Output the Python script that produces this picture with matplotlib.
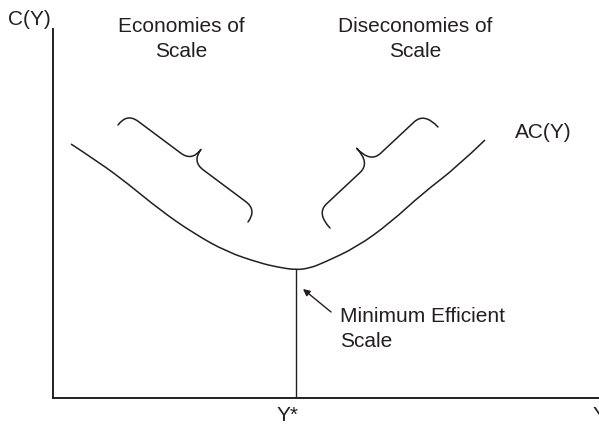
"""
Average cost curve AC(Y): economies / diseconomies of scale and minimum efficient scale.
Axis units are arbitrary (one unit ~ one pixel of the original diagram).
"""

import numpy as np
import matplotlib

matplotlib.use("Agg")
import matplotlib.pyplot as plt
from matplotlib.path import Path
from matplotlib.patches import PathPatch

# Average cost curve
output = [18, 47, 74, 107, 140, 174, 207, 224, 243, 257, 270, 304, 337, 370, 404, 432]
avg_cost = [254, 235, 215, 188, 165, 146, 135, 131, 128, 130, 135, 151, 175, 205, 231, 258]

# Braces: (end A, end B, height)
brace_left = ((65, 273), (195, 176), 15)
brace_right = ((277, 170), (385, 271), 20)

label_econ = ["Economies of", "Scale"]
label_disecon = ["Diseconomies of", "Scale"]
label_mes = ["Minimum Efficient", "Scale"]

INK = "#231f20"
FONT = "Liberation Sans"


def smooth_path(xs, ys):
    # quadratic segments: read points act as control points, joints at midpoints
    pts = np.column_stack([xs, ys]).astype(float)
    verts = [pts[0]]
    codes = [Path.MOVETO]
    for k in range(1, len(pts) - 1):
        end = pts[k + 1] if k == len(pts) - 2 else (pts[k] + pts[k + 1]) / 2
        verts += [pts[k], end]
        codes += [Path.CURVE3, Path.CURVE3]
    return Path(verts, codes)


def brace_path(p0, p1, h, r=14):
    p0 = np.asarray(p0, float)
    p1 = np.asarray(p1, float)
    d = p1 - p0
    L = np.hypot(*d)
    u = d / L
    n = np.array([-u[1], u[0]])
    m = L / 2
    local = [
        (0, 0), (0, h), (r, h),
        (m - r, h),
        (m, h), (m, 2 * h),
        (m, h), (m + r, h),
        (L - r, h),
        (L, h), (L, 0),
    ]
    codes = [Path.MOVETO, Path.CURVE3, Path.CURVE3, Path.LINETO,
             Path.CURVE3, Path.CURVE3, Path.CURVE3, Path.CURVE3,
             Path.LINETO, Path.CURVE3, Path.CURVE3]
    verts = [p0 + a * u + b * n for a, b in local]
    return Path(verts, codes)


fig = plt.figure(figsize=(5.99, 4.24), dpi=100)
ax = fig.add_axes([53 / 599, 26 / 424, 546 / 599, 369 / 424])
ax.set_xlim(0, 546)
ax.set_ylim(0, 369)
for side in ("top", "right"):
    ax.spines[side].set_visible(False)
for side in ("left", "bottom"):
    ax.spines[side].set_linewidth(1.4)
    ax.spines[side].set_color(INK)
ax.set_xticks([])
ax.set_yticks([])

ax.add_patch(PathPatch(smooth_path(output, avg_cost), fill=False, edgecolor=INK, lw=1.1))

i_min = int(np.argmin(avg_cost))
ax.plot([output[i_min], output[i_min]], [0, avg_cost[i_min]], color=INK, lw=1.0)

for p0, p1, h in (brace_left, brace_right):
    ax.add_patch(PathPatch(brace_path(p0, p1, h), fill=False, edgecolor=INK, lw=1.1,
                           capstyle="round", joinstyle="round"))

kw = dict(fontsize=15, color=INK, family=FONT, va="baseline")
ax.text(-45, 373, "C(Y)", ha="left", **kw)
ax.text(540, -23, "Y", ha="left", **kw)
ax.text(output[i_min] - 19, -23, "Y*", ha="left", **kw)
ax.text(462, 260, "AC(Y)", ha="left", **kw)
for j, s in enumerate(label_econ):
    ax.text(128, 366 - 25 * j, s, ha="center", **kw)
for j, s in enumerate(label_disecon):
    ax.text(362, 366 - 25 * j, s, ha="center", **kw)
for j, s in enumerate(label_mes):
    ax.text(287, 76 - 25 * j, s, ha="left", **kw)

ax.annotate("", xy=(250, 109), xytext=(278, 86),
            arrowprops=dict(arrowstyle="-|>", color=INK, lw=1.0,
                            mutation_scale=10, shrinkA=0, shrinkB=0))

fig.savefig("out.png", dpi=100)
